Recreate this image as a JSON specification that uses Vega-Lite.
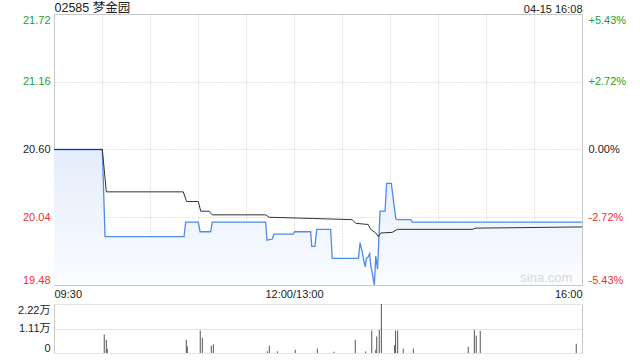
{
  "$schema": "https://vega.github.io/schema/vega-lite/v6.json",
  "padding": {"left": 17, "top": 0, "right": 0, "bottom": 0},
  "background": "white",
  "config": {
    "font": "'Liberation Sans', 'Noto Sans CJK SC', sans-serif",
    "view": {"stroke": null},
    "axis": {"labelFont": "'Liberation Sans', 'Noto Sans CJK SC', sans-serif", "labelFontSize": 11, "ticks": false, "domain": false, "title": null, "labelOverlap": false}
  },
  "datasets": {
    "price": [
      {"t": 0, "p": 20.60}, {"t": 30.2, "p": 20.60}, {"t": 31.9, "p": 19.88}, {"t": 81.3, "p": 19.88},
      {"t": 82.3, "p": 20.00}, {"t": 90.2, "p": 20.00}, {"t": 91.3, "p": 19.92}, {"t": 97.9, "p": 19.92},
      {"t": 98.9, "p": 20.00}, {"t": 132.3, "p": 20.00}, {"t": 133.1, "p": 19.85}, {"t": 136.4, "p": 19.86},
      {"t": 137.5, "p": 19.90}, {"t": 149.6, "p": 19.90}, {"t": 150.3, "p": 19.92}, {"t": 160.4, "p": 19.92},
      {"t": 161.1, "p": 19.80}, {"t": 163.1, "p": 19.80}, {"t": 164.2, "p": 19.94}, {"t": 172.9, "p": 19.94},
      {"t": 173.9, "p": 19.70}, {"t": 190.3, "p": 19.70}, {"t": 191.3, "p": 19.83}, {"t": 192.7, "p": 19.75},
      {"t": 193.8, "p": 19.67}, {"t": 194.5, "p": 19.63}, {"t": 195.2, "p": 19.70}, {"t": 196.3, "p": 19.71},
      {"t": 197.3, "p": 19.74}, {"t": 198.1, "p": 19.63}, {"t": 198.9, "p": 19.58}, {"t": 200.2, "p": 19.48},
      {"t": 201.1, "p": 19.72}, {"t": 202.2, "p": 19.61}, {"t": 203.1, "p": 19.88}, {"t": 203.8, "p": 20.09},
      {"t": 206.9, "p": 20.09}, {"t": 207.9, "p": 20.32}, {"t": 210.8, "p": 20.32}, {"t": 213.6, "p": 20.03},
      {"t": 214.4, "p": 20.02}, {"t": 222.9, "p": 20.02}, {"t": 223.9, "p": 20.00}, {"t": 330, "p": 20.00}
    ],
    "avg": [
      {"t": 0, "a": 20.60}, {"t": 30.2, "a": 20.60}, {"t": 32.7, "a": 20.25}, {"t": 80.8, "a": 20.25},
      {"t": 82.9, "a": 20.17}, {"t": 90.2, "a": 20.17}, {"t": 91.7, "a": 20.09}, {"t": 96.9, "a": 20.09},
      {"t": 98.9, "a": 20.06}, {"t": 132.3, "a": 20.06}, {"t": 134.4, "a": 20.04}, {"t": 161.4, "a": 20.03},
      {"t": 186.4, "a": 20.02}, {"t": 188.6, "a": 19.99}, {"t": 196.4, "a": 19.98}, {"t": 197.9, "a": 19.94},
      {"t": 201.1, "a": 19.91}, {"t": 202.7, "a": 19.88}, {"t": 204.2, "a": 19.91}, {"t": 211.4, "a": 19.915},
      {"t": 214.6, "a": 19.94}, {"t": 261.4, "a": 19.94}, {"t": 263.6, "a": 19.95}, {"t": 330, "a": 19.96}
    ],
    "vol": [
      {"t": 31.4, "v": 8400}, {"t": 32.7, "v": 6000}, {"t": 33.3, "v": 1900}, {"t": 82.7, "v": 6000},
      {"t": 83.3, "v": 3000}, {"t": 91.4, "v": 10200}, {"t": 92.7, "v": 6900}, {"t": 98.3, "v": 3300},
      {"t": 99.6, "v": 3900}, {"t": 133.3, "v": 800}, {"t": 134.6, "v": 3300}, {"t": 139.6, "v": 800},
      {"t": 150.8, "v": 1500}, {"t": 164.6, "v": 1900}, {"t": 175, "v": 600}, {"t": 188.3, "v": 6000},
      {"t": 194.8, "v": 700}, {"t": 198.6, "v": 10200}, {"t": 201.1, "v": 1500}, {"t": 201.7, "v": 7500},
      {"t": 203.3, "v": 10500}, {"t": 204.6, "v": 22200}, {"t": 212.9, "v": 3600}, {"t": 213.5, "v": 10200},
      {"t": 214.8, "v": 10200}, {"t": 218.3, "v": 1900}, {"t": 224.6, "v": 1900}, {"t": 258.9, "v": 2800},
      {"t": 262.7, "v": 10500}, {"t": 263.9, "v": 7900}, {"t": 266.4, "v": 10000}, {"t": 326.4, "v": 4200}
    ],
    "mark": [{"t": 324, "p": 19.48, "label": "sina.com"}]
  },
  "vconcat": [
    {
      "width": 528,
      "height": 271,
      "view": {"stroke": "#c8c8c8", "strokeWidth": 1},
      "layer": [
        {
          "data": {"name": "price"},
          "mark": {"type": "area", "line": false, "color": {"gradient": "linear", "x1": 0, "y1": 0, "x2": 0, "y2": 1, "stops": [{"offset": 0, "color": "#e4edfb"}, {"offset": 1, "color": "#fafcff"}]}},
          "encoding": {
            "x": {"field": "t", "type": "quantitative", "scale": {"domain": [0, 330], "nice": false, "zero": false},
              "axis": {"orient": "bottom", "values": [0, 30, 60, 90, 120, 150, 180, 210, 240, 270, 300, 330], "grid": true, "gridColor": "#c8c8c8", "gridDash": [1, 2],
                "labelExpr": "datum.value == 0 ? '09:30' : datum.value == 150 ? '12:00/13:00' : datum.value == 330 ? '16:00' : ''", "labelFlush": true, "labelPadding": 3, "labelColor": "#222"}},
            "y": {"field": "p", "type": "quantitative", "scale": {"domain": [19.48, 21.72], "nice": false, "zero": false},
              "axis": {"orient": "left", "values": [19.48, 20.04, 20.6, 21.16, 21.72], "format": ".2f", "grid": true, "gridColor": "#c8c8c8", "gridDash": [1, 2], "labelFlush": true, "labelPadding": 4,
                "labelColor": {"condition": [{"test": "datum.value > 20.61", "value": "#1f9e1f"}, {"test": "datum.value < 20.59", "value": "#f03030"}], "value": "#222"}}},
            "y2": {"datum": 19.48}
          }
        },
        {
          "data": {"name": "price"},
          "mark": {"type": "line", "color": "#4f8be8", "strokeWidth": 1.3},
          "encoding": {
            "x": {"field": "t", "type": "quantitative", "axis": null},
            "y": {"field": "p", "type": "quantitative", "axis": null}
          }
        },
        {
          "data": {"name": "avg"},
          "mark": {"type": "line", "color": "#333333", "strokeWidth": 1},
          "encoding": {
            "x": {"field": "t", "type": "quantitative",
              "axis": {"orient": "top", "values": [0, 330], "grid": false, "labelFlush": true, "labelPadding": 0, "labelColor": "#222",
                "labelExpr": "datum.value == 0 ? '02585 梦金园' : '04-15 16:08'",
                "labelFontSize": {"condition": {"test": "datum.value == 0", "value": 12.5}, "value": 11}}},
            "y": {"field": "a", "type": "quantitative",
              "axis": {"orient": "right", "values": [19.48, 20.04, 20.6, 21.16, 21.72], "grid": false, "labelFlush": true, "labelPadding": 6,
                "labelExpr": "datum.value > 21.5 ? '+5.43%' : datum.value > 21 ? '+2.72%' : datum.value > 20.5 ? '0.00%' : datum.value > 20 ? '-2.72%' : '-5.43%'",
                "labelColor": {"condition": [{"test": "datum.value > 20.61", "value": "#1f9e1f"}, {"test": "datum.value < 20.59", "value": "#f03030"}], "value": "#222"}}}
          }
        },
        {
          "data": {"name": "mark"},
          "mark": {"type": "text", "align": "right", "baseline": "bottom", "fontSize": 13, "color": "#d8d8d8"},
          "encoding": {
            "x": {"field": "t", "type": "quantitative", "axis": null},
            "y": {"field": "p", "type": "quantitative", "axis": null},
            "text": {"field": "label"}
          }
        }
      ],
      "resolve": {"axis": {"x": "independent", "y": "independent"}}
    },
    {
      "width": 528,
      "height": 49,
      "data": {"name": "vol"},
      "layer": [
        {
          "mark": {"type": "rule", "color": "#555555", "strokeWidth": 1},
          "encoding": {
            "x": {"field": "t", "type": "quantitative", "scale": {"domain": [0, 330], "nice": false, "zero": false}, "axis": null},
            "y": {"field": "v", "type": "quantitative", "scale": {"domain": [0, 22200], "nice": false},
              "axis": {"orient": "left", "values": [0, 11100, 22200], "grid": true, "gridColor": "#c8c8c8", "gridDash": [1, 1], "labelFlush": true, "labelPadding": 4, "domain": true, "domainColor": "#c8c8c8", "labelColor": "#222",
                "labelExpr": "datum.value == 0 ? '0' : format(datum.value / 10000, '.2f') + '万'"}},
            "y2": {"datum": 0}
          }
        },
        {
          "mark": {"type": "rule", "opacity": 0},
          "encoding": {
            "x": {"field": "t", "type": "quantitative", "axis": null},
            "y": {"field": "v", "type": "quantitative", "axis": {"orient": "right", "labels": false, "grid": false, "domain": true, "domainColor": "#c8c8c8", "values": [0, 22200]}}
          }
        }
      ],
      "resolve": {"axis": {"y": "independent"}}
    }
  ],
  "spacing": 3
}
